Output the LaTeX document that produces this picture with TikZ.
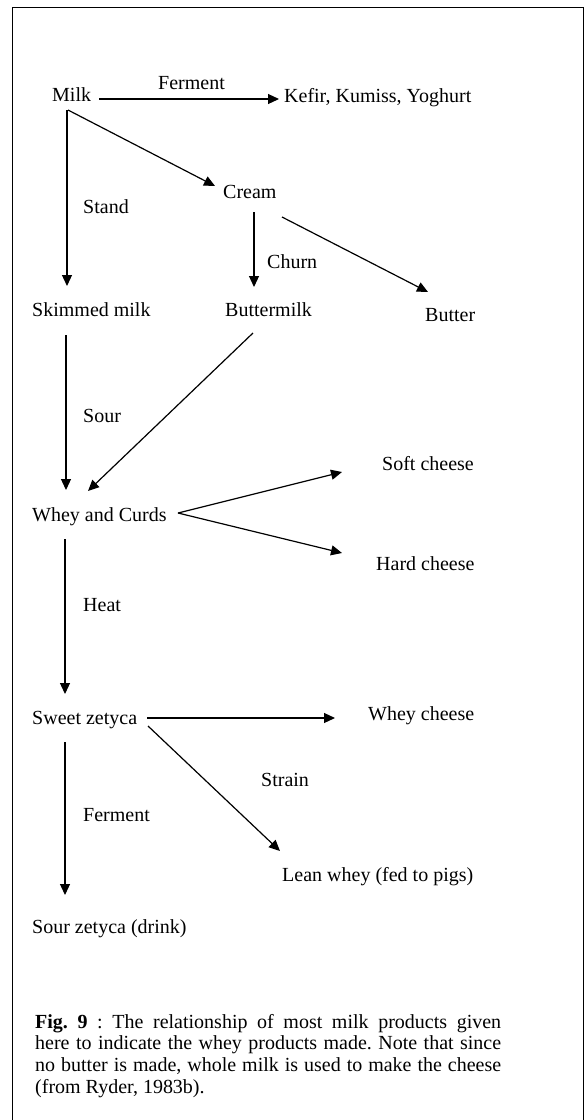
\documentclass[tikz,border=0pt]{standalone}
\usepackage{fontspec}
\setmainfont{Liberation Serif}
\usetikzlibrary{arrows.meta,calc}
\begin{document}
\begin{tikzpicture}[x=1pt,y=-1pt,
  lbl/.style={anchor=base west,inner sep=0pt,font=\fontsize{20}{22}\selectfont},
  arr/.style={line width=1.2pt,-{Triangle[length=11pt,width=10pt]}},
  frame/.style={line width=1.8pt}]
\useasboundingbox (0,0) rectangle (585,1120);
\draw[frame] (12.5,1120) -- (12.5,7.5) -- (583.5,7.5) -- (583.5,1120);
% nodes
\node[lbl] (milk) at (52,101) {Milk};
\node[lbl] (ferm1) at (158,89) {Ferment};
\node[lbl] (kefir) at (284,102) {Kefir, Kumiss, Yoghurt};
\node[lbl] (cream) at (223,198) {Cream};
\node[lbl] (stand) at (83,213) {Stand};
\node[lbl] (churn) at (267,268) {Churn};
\node[lbl] (skim) at (32,316) {Skimmed milk};
\node[lbl] (bmilk) at (225,316) {Buttermilk};
\node[lbl] (butter) at (425,321) {Butter};
\node[lbl] (sour) at (83,422) {Sour};
\node[lbl] (soft) at (382,470) {Soft cheese};
\node[lbl] (whey) at (32,521) {Whey and Curds};
\node[lbl] (hard) at (376,570) {Hard cheese};
\node[lbl] (heat) at (83,611) {Heat};
\node[lbl] (wcheese) at (368,720) {Whey cheese};
\node[lbl] (sweet) at (32,724) {Sweet zetyca};
\node[lbl] (strain) at (261,786) {Strain};
\node[lbl] (ferm2) at (83,821) {Ferment};
\node[lbl] (lean) at (282,881) {Lean whey (fed to pigs)};
\node[lbl] (sourz) at (32,933) {Sour zetyca (drink)};
% connectors
\draw[arr] ($(milk.base west)+(47,-2)$) -- ($(kefir.base west)+(-5,-3)$);
\draw[arr] ($(milk.base west)+(16,9)$) -- ($(cream.base west)+(-8,-12)$);
\draw[arr] ($(milk.base west)+(15,9)$) -- ($(skim.base west)+(35,-30)$);
\draw[arr] ($(cream.base west)+(31,14)$) -- ($(bmilk.base west)+(29,-29)$);
\draw[arr] ($(cream.base west)+(59,19)$) -- ($(butter.base west)+(3,-29)$);
\draw[arr] ($(skim.base west)+(34,19)$) -- ($(whey.base west)+(34,-31)$);
\draw[arr] ($(bmilk.base west)+(28,17)$) -- ($(whey.base west)+(56,-30)$);
\draw[arr] ($(whey.base west)+(146,-8)$) -- ($(soft.base west)+(-40,2)$);
\draw[arr] ($(whey.base west)+(146,-8)$) -- ($(hard.base west)+(-34,-17)$);
\draw[arr] ($(whey.base west)+(33,18)$) -- ($(sweet.base west)+(33,-30)$);
\draw[arr] ($(sweet.base west)+(115,-6)$) -- ($(wcheese.base west)+(-33,-2)$);
\draw[arr] ($(sweet.base west)+(116,2)$) -- ($(lean.base west)+(-2,-30)$);
\draw[arr] ($(sweet.base west)+(33,18)$) -- ($(sourz.base west)+(33,-38)$);
% caption
\node[anchor=north west,inner sep=0pt,text width=466pt,align=justify,
      font=\fontsize{20}{21.7}\selectfont] (cap) at (35,1014)
 {\noindent\frenchspacing\hyphenpenalty=10000\tolerance=9999\textbf{Fig. 9} : The relationship of most milk products given\linebreak
 here to indicate the whey products made. Note that since\linebreak
 no butter is made, whole milk is used to make the cheese\linebreak
 (from Ryder, 1983b).};
\end{tikzpicture}
\end{document}
